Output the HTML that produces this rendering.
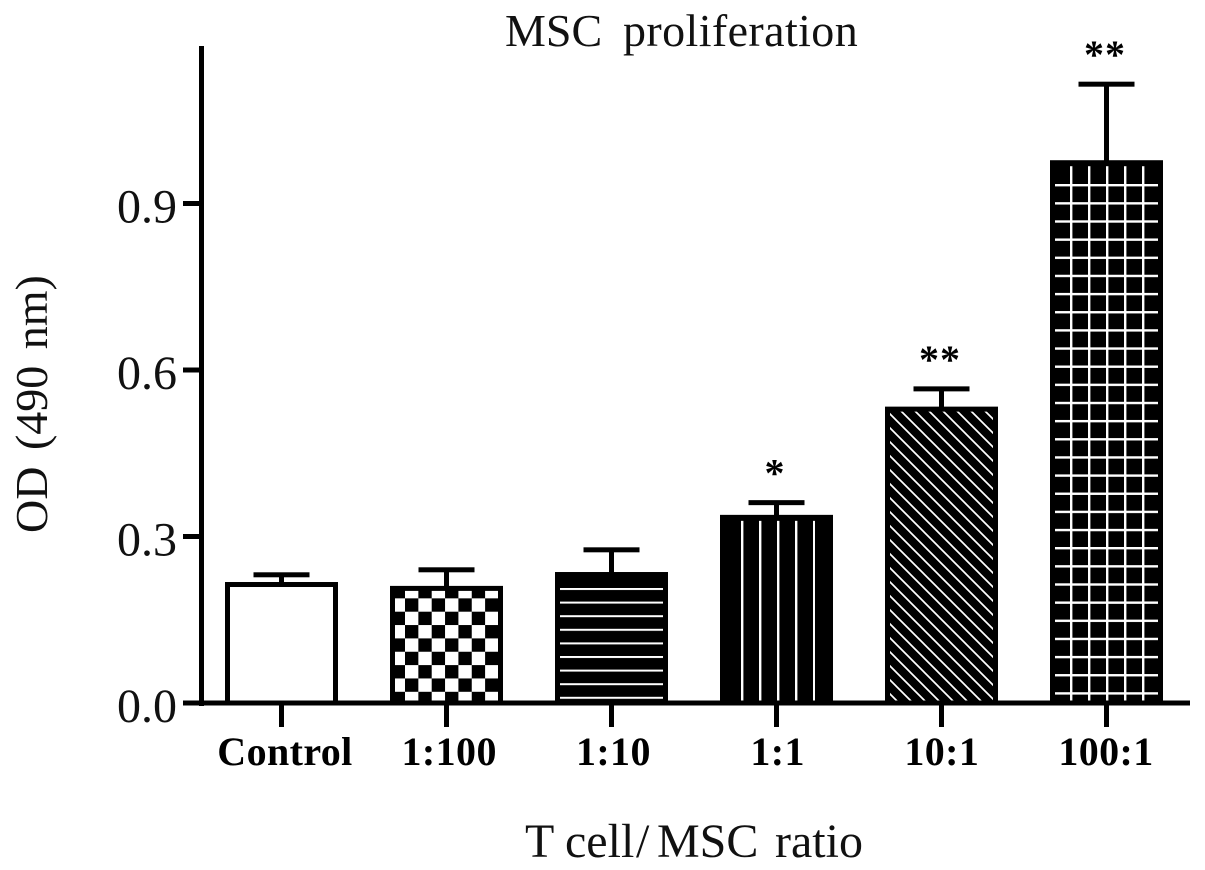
<!DOCTYPE html>
<html lang="en">
<head>
<meta charset="utf-8">
<title>MSC proliferation</title>
<style>
  html, body { margin: 0; padding: 0; background: #fff; }
  svg { display: block; font-family: "Liberation Serif", serif; }
</style>
</head>
<body>
<svg id="chart" xmlns="http://www.w3.org/2000/svg" width="1205" height="870" viewBox="0 0 1205 870">
  <defs>
    <pattern id="fill-check" x="405" y="585" width="26.7" height="26.7" patternUnits="userSpaceOnUse">
      <rect width="26.7" height="26.7" fill="#000"/>
      <rect width="13.35" height="13.35" fill="#fff"/>
      <rect x="13.35" y="13.35" width="13.35" height="13.35" fill="#fff"/>
    </pattern>
    <pattern id="fill-horizontal" x="0" y="588" width="13.6" height="13.6" patternUnits="userSpaceOnUse">
      <rect width="13.6" height="13.6" fill="#000"/>
      <rect y="0" width="13.6" height="2" fill="#fff"/>
    </pattern>
    <pattern id="lines-vertical-a" x="741" y="0" width="18" height="18" patternUnits="userSpaceOnUse">
      <rect x="0" width="2.4" height="18" fill="#fff"/>
    </pattern>
    <pattern id="fill-diagonal" x="0" y="0" width="14" height="14" patternUnits="userSpaceOnUse">
      <rect width="14" height="14" fill="#000"/>
      <path d="M-2 -2L16 16M-2 12L2 16M12 -2L16 2" stroke="#fff" stroke-width="1.7"/>
    </pattern>
    <pattern id="lines-vertical-b" x="1070" y="0" width="18" height="18" patternUnits="userSpaceOnUse">
      <rect x="0" width="2.4" height="18" fill="#fff"/>
    </pattern>
    <pattern id="lines-horizontal" x="0" y="184" width="18" height="18.15" patternUnits="userSpaceOnUse">
      <rect y="0" width="18" height="2.4" fill="#fff"/>
    </pattern>
  </defs>
  <rect width="1205" height="870" fill="#fff"/>
  <text y="46" font-size="46" fill="#111"><tspan x="505">MSC</tspan> <tspan x="623" letter-spacing="0.4">proliferation</tspan></text>
  <text transform="translate(47,533) rotate(-90)" font-size="46" word-spacing="5" fill="#111">OD (490 nm)</text>
  <text y="857" font-size="48" fill="#111"><tspan x="525">T</tspan> <tspan x="565">cell</tspan><tspan x="636">/</tspan><tspan x="657">MSC</tspan> <tspan x="775">ratio</tspan></text>
  <g id="bars"></g>
  <g id="axes"></g>
</svg>
<script>
const categories = ['Control', '1:100', '1:10', '1:1', '10:1', '100:1'];
const barValues = [0.218, 0.211, 0.236, 0.339, 0.534, 0.978];
const errorValues = [0.013, 0.029, 0.040, 0.022, 0.032, 0.137];
const significance = ['', '', '', '*', '**', '**'];
const yTickValues = [0, 0.3, 0.6, 0.9];
const yTickLabels = ['0.0', '0.3', '0.6', '0.9'];

const NS = 'http://www.w3.org/2000/svg';
const baseY = 703;
const pxPerUnit = 555;
const firstX = 281.5;
const stepX = 165;
const barW = 113;
const border = 5;
const yScale = function (v) { return baseY - v * pxPerUnit; };
const xScale = function (i) { return firstX + i * stepX; };
const labelX = function (i) { return 285 + i * 164.2; };

// Texture layers per bar: fill plus insets from the bar's left, right and top edges.
const barLayers = [
  [{ fill: '#fff', l: border, r: border, t: border }],
  [{ fill: 'url(#fill-check)', l: border, r: border, t: border }],
  [{ fill: 'url(#fill-horizontal)', l: border, r: border, t: border }],
  [{ fill: 'url(#lines-vertical-a)', l: 21, r: 18, t: 6 }],
  [{ fill: 'url(#fill-diagonal)', l: border, r: border, t: border }],
  [{ fill: 'url(#lines-vertical-b)', l: 20, r: 18, t: 6 }, { fill: 'url(#lines-horizontal)', l: border, r: border, t: 18 }]
];

function make(parent, tag, attrs) {
  const el = document.createElementNS(NS, tag);
  Object.keys(attrs).forEach(function (k) { el.setAttribute(k, attrs[k]); });
  parent.appendChild(el);
  return el;
}

const barsG = document.getElementById('bars');
const axesG = document.getElementById('axes');

categories.forEach(function (cat, i) {
  const cx = xScale(i);
  const top = yScale(barValues[i]);
  const left = cx - barW / 2;
  const slug = cat.toLowerCase().replace(':', '-to-');

  const errTop = yScale(barValues[i] + errorValues[i]);
  const stem = make(barsG, 'rect', { x: cx - 2.5, y: errTop, width: 5, height: top - errTop + 2, fill: '#000' });
  
  
  const cap = make(barsG, 'rect', { x: cx - 28, y: errTop - 2.5, width: 56, height: 5, fill: '#000' });
  
  

  const outer = make(barsG, 'rect', { x: left, y: top, width: barW, height: baseY - top, fill: '#000' });
  
  
  barLayers[i].forEach(function (layer) {
    const inner = make(barsG, 'rect', { x: left + layer.l, y: top + layer.t, width: barW - layer.l - layer.r, height: baseY - top - layer.t, fill: layer.fill });
    
    
  });

  if (significance[i]) {
    const star = make(barsG, 'text', { x: cx - 1.5, y: errTop - 16, 'font-size': 40, 'font-weight': 'bold', 'text-anchor': 'middle', 'letter-spacing': 1, fill: '#000' });
    star.textContent = significance[i];
    
    
  }

  const tick = make(axesG, 'rect', { x: cx - 2.5, y: baseY, width: 5, height: 24, fill: '#000' });
  
  
  const label = make(axesG, 'text', { x: labelX(i), y: 765, 'font-size': 40, 'font-weight': 'bold', 'text-anchor': 'middle', 'letter-spacing': 0.4, fill: '#000' });
  label.textContent = cat;
  
  
});

const yLine = make(axesG, 'rect', { x: 199, y: 46, width: 5, height: baseY - 46 + 3, fill: '#000' });


const xLine = make(axesG, 'rect', { x: 183, y: baseY - 2.5, width: 1007, height: 5, fill: '#000' });



yTickValues.forEach(function (v, i) {
  const y = yScale(v);
  const t = make(axesG, 'rect', { x: 183, y: y - 2.5, width: 18, height: 5, fill: '#000' });
  
  
  const l = make(axesG, 'text', { x: 177, y: y + 19, 'font-size': 48, 'text-anchor': 'end', fill: '#111' });
  l.textContent = yTickLabels[i];
  
  
});
</script>
</body>
</html>
